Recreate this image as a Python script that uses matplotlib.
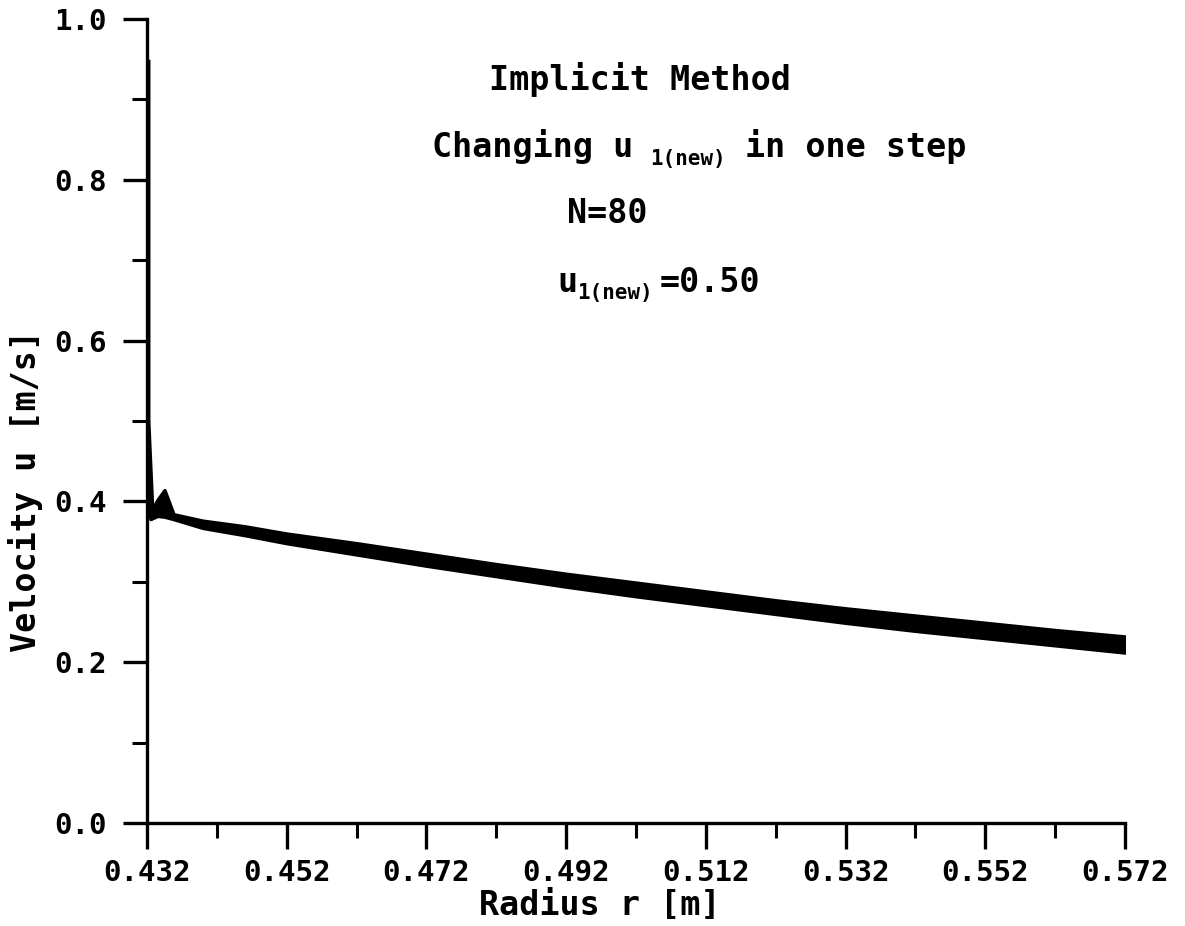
import numpy as np
import matplotlib
matplotlib.use("Agg")
import matplotlib.pyplot as plt

# velocity profile band (several overlapping time levels drawn as one thick band)
r_edge = [0.4325, 0.4335, 0.4345, 0.4358, 0.440, 0.446, 0.452, 0.462, 0.472, 0.482,
          0.492, 0.502, 0.512, 0.522, 0.532, 0.542, 0.552, 0.562, 0.572]
u_upper = [0.386, 0.402, 0.414, 0.384, 0.376, 0.369, 0.360, 0.348, 0.335, 0.322,
           0.310, 0.299, 0.288, 0.277, 0.267, 0.258, 0.249, 0.240, 0.232]
u_lower = [0.378, 0.382, 0.381, 0.378, 0.367, 0.358, 0.348, 0.334, 0.320, 0.307,
           0.294, 0.282, 0.271, 0.260, 0.249, 0.239, 0.230, 0.221, 0.212]

# start-up spike at the inner wall
r_spike = [0.4320, 0.4320, 0.43215, 0.4326]
u_spike = [0.945, 0.50, 0.47, 0.383]

x_ticks = [0.432, 0.452, 0.472, 0.492, 0.512, 0.532, 0.552, 0.572]
y_ticks = [0.0, 0.2, 0.4, 0.6, 0.8, 1.0]

plt.rcParams["font.family"] = ["DejaVu Sans Mono"]
plt.rcParams["font.weight"] = "bold"
plt.rcParams["axes.labelweight"] = "bold"

fig = plt.figure(figsize=(11.85, 9.26), dpi=100)
ax = fig.add_axes([147 / 1185, 1 - 823 / 926, (1125 - 147) / 1185, (823 - 19) / 926])

ax.fill_between(r_edge, u_lower, u_upper, color="black", lw=2.5)
ax.plot(r_spike, u_spike, color="black", lw=5, solid_joinstyle="miter")

ax.set_xlim(0.432, 0.572)
ax.set_ylim(0.0, 1.0)
ax.set_xticks(x_ticks)
ax.set_xticklabels([f"{v:.3f}" for v in x_ticks])
ax.set_yticks(y_ticks)
ax.set_yticklabels([f"{v:.1f}" for v in y_ticks])
ax.set_xticks(np.arange(0.442, 0.572, 0.02), minor=True)
ax.set_yticks(np.arange(0.1, 1.0, 0.2), minor=True)

for s in ["top", "right"]:
    ax.spines[s].set_visible(False)
for s in ["left", "bottom"]:
    ax.spines[s].set_linewidth(2.4)
    ax.spines[s].set_capstyle("projecting")

ax.tick_params(which="major", direction="out", width=2.4, labelsize=21)
ax.tick_params(which="minor", direction="out", length=11, width=2.2)
ax.tick_params(axis="x", which="major", length=19, pad=7)
ax.tick_params(axis="y", which="major", length=17, pad=12)

ax.set_xlabel("Radius r [m]", fontsize=24, fontweight="bold")
ax.set_ylabel("Velocity u [m/s]", fontsize=24, fontweight="bold")
ax.xaxis.set_label_coords(0.463, -0.082)
ax.yaxis.set_label_coords(-0.106, 0.413)

# annotation block, placed in figure pixels
W, H = 1185, 926
big, small = 24, 15

def put(x, y, s, size, ha="left"):
    fig.text(x / W, 1 - y / H, s, fontsize=size, va="baseline", ha=ha,
             color="black", transform=fig.transFigure)

put(640, 90, "Implicit Method", big, ha="center")
put(432, 157, "Changing u", big)
put(650, 165, "1(new)", small)
put(745, 157, "in one step", big)
put(567, 223, "N=80", big)
put(557, 292, "u", big)
put(577, 299, "1(new)", small)
put(660, 292, "=0.50", big)

fig.savefig("out.png", dpi=100)
